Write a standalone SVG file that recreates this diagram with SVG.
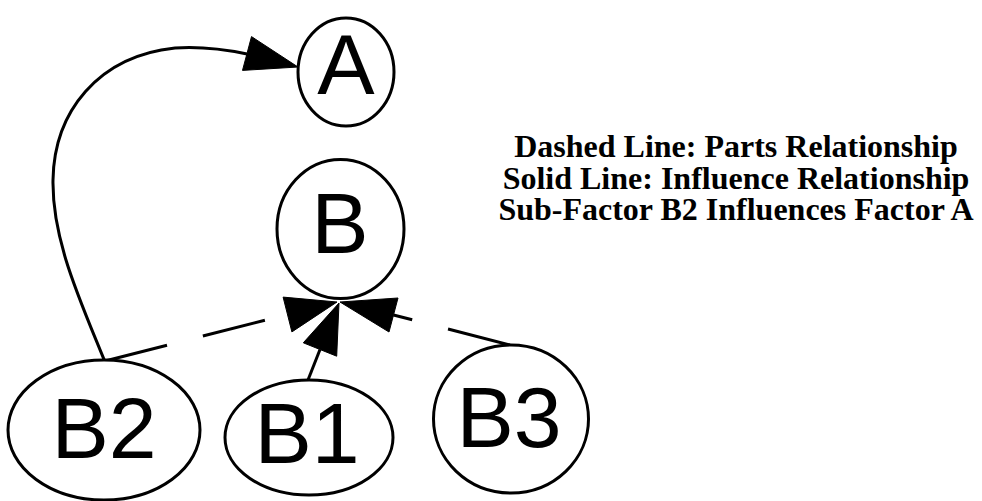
<svg xmlns="http://www.w3.org/2000/svg" width="982" height="501" viewBox="0 0 982 501">
  <style>
    .node ellipse { fill: #ffffff; stroke: #000000; stroke-width: 3; }
    .node text { font-family: "Liberation Sans", Arial, sans-serif; font-size: 86px; text-anchor: middle; fill: #000000; }
    .edge path, .edge line { fill: none; stroke: #000000; stroke-width: 3; }
    .edge polygon { fill: #000000; stroke: #000000; stroke-width: 1; stroke-linejoin: miter; }
    .dashed { stroke-dasharray: 64 37; }
    .legend text { font-family: "Liberation Serif", "Times New Roman", serif; font-size: 32px; font-weight: bold; text-anchor: middle; fill: #000000; }
  </style>
  <rect width="982" height="501" fill="#ffffff"/>

  <!-- connectors -->
  <g id="edges">
    <!-- B2 influences A -->
    <g class="edge" id="edge-B2-A">
      <path d="M105,362 C80,300 52,240 53,180 C54,112 98,56 175,48 C205,46 228,50 247,54"/>
      <polygon points="251.5,36.6 242.5,70.4 298,67"/>
    </g>
    <!-- B2 part of B -->
    <g class="edge" id="edge-B2-B">
      <line class="dashed" x1="105" y1="361" x2="287.5" y2="314.5"/>
      <polygon points="283.1,297.1 291.9,331.9 337,302"/>
    </g>
    <!-- B1 influences B -->
    <g class="edge" id="edge-B1-B">
      <line x1="308" y1="380" x2="320" y2="349.5"/>
      <polygon points="303.3,342.8 336.7,356.2 339,303"/>
    </g>
    <!-- B3 part of B -->
    <g class="edge" id="edge-B3-B">
      <line class="dashed" x1="510" y1="345" x2="393.5" y2="315"/>
      <polygon points="398,298 389,332 340,302"/>
    </g>
  </g>

  <!-- nodes -->
  <g class="node" id="node-A">
    <ellipse cx="346" cy="72" rx="48" ry="54"/>
    <text x="346" y="94">A</text>
  </g>
  <g class="node" id="node-B">
    <ellipse cx="340.5" cy="229" rx="63.5" ry="69.5"/>
    <text x="340" y="253">B</text>
  </g>
  <g class="node" id="node-B2">
    <ellipse cx="104" cy="430" rx="96" ry="70"/>
    <text x="104" y="458">B2</text>
  </g>
  <g class="node" id="node-B1">
    <ellipse cx="309" cy="437.5" rx="84" ry="57.5"/>
    <text x="307" y="463">B1</text>
  </g>
  <g class="node" id="node-B3">
    <ellipse cx="511" cy="419" rx="77.5" ry="74"/>
    <text x="509" y="447">B3</text>
  </g>

  <!-- legend -->
  <g class="legend" id="legend">
    <text x="736" y="157">Dashed Line: Parts Relationship</text>
    <text x="736" y="188.7">Solid Line: Influence Relationship</text>
    <text x="736" y="220.3">Sub-Factor B2 Influences Factor A</text>
  </g>
</svg>
